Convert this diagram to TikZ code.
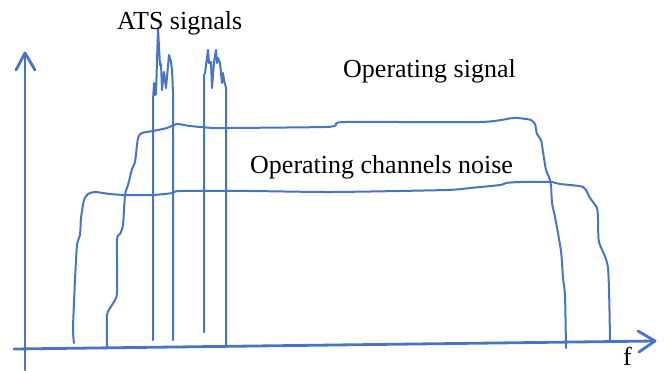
\documentclass[tikz,border=0pt]{standalone}
\usepackage{fontspec}
\setmainfont{Liberation Serif}
\definecolor{sketchblue}{RGB}{70,117,196}
\begin{document}
\begin{tikzpicture}[x=1pt,y=-1pt,
  curve/.style={draw=sketchblue,line width=2pt,line join=round,line cap=round},
  axis/.style={draw=sketchblue,line width=2.8pt,line join=round,line cap=round},
  lbl/.style={inner sep=0pt,anchor=base west,font=\fontsize{26}{31}\selectfont}]
\useasboundingbox (0,0) rectangle (666,370);
% axes
\draw[axis] (25,370) -- (25,53);
\draw[axis] (16,70) -- (25,53) -- (35,70);
\draw[axis] (14,349) -- (655,341);
\draw[axis] (638,331) -- (655,341) -- (639,352);
% operating channels noise
\draw[curve] plot[smooth,tension=0.4] coordinates {(74,343) (73,328) (75,280) (77,245) (80,235) (81,218) (84,200) (88,194) (95,192) (110,194) (125,195) (153,195) (173,193) (180,191) (250,191) (333,192) (446,190) (470,188) (500,185) (506,183) (520,182) (552,182) (560,184) (583,187) (590,198) (597,208) (598,220) (599,242) (608,268) (610,342)};
% operating signal
\draw[curve] plot[smooth,tension=0.4] coordinates {(107,347) (107,315) (112,305) (117,293) (117,240) (120,234) (123,225) (125,195) (128,185) (132,169) (135,162) (138,138) (142,133) (153,131) (167,128) (177,124) (190,126) (213,128) (230,128) (325,127) (336,125) (346,122) (480,122) (513,118) (526,119) (531,120) (535,124) (537,134) (541,140) (543,152) (546,170) (549,177) (551,185) (552,203) (555,217) (561,251) (563,278) (565,296) (566,348)};
% ATS signals
\draw[curve] (153,340) -- (153,100) -- (154,83) -- (155,95) -- (156,94)
  -- (158,28) -- (160,65) -- (161,64) -- (162,90) -- (164,72) -- (166,88)
  -- (169,55) -- (171,62) -- (172,70) -- (173,92) -- (173,340);
\draw[curve] (204,332) -- (204,75) -- (205,73) -- (208,50) -- (209,63)
  -- (211,62) -- (212,88) -- (214,62) -- (216,50) -- (217,63) -- (218,58)
  -- (220,63) -- (222,83) -- (223,73) -- (224,80) -- (226,88) -- (226,346);
% labels
\node[lbl] (ats) at (117,29) {ATS signals};
\node[lbl] (opsig) at (343,77) {Operating signal};
\node[lbl] (noise) at (250,173) {Operating channels noise};
\node[lbl] (f) at (623,365) {f};
\end{tikzpicture}
\end{document}
